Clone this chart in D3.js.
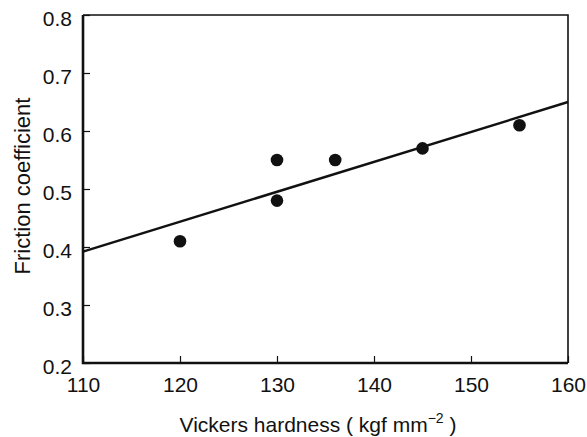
<!DOCTYPE html>
<meta charset="utf-8">
<head>
  <title>Friction vs hardness</title>
</head>
<style>
  body { margin: 0; background: #fff; }
  text { font-family: "Liberation Sans", Arial, sans-serif; fill: #111; }
</style>
<body>
  <div id="chart"></div>
  <script src="https://d3js.org/d3.v7.min.js"></script>
  <script>
  // data
  var hardness = [120, 130, 130, 136, 145, 155];
  var friction = [0.41, 0.55, 0.48, 0.55, 0.57, 0.61];
  // fitted line end points
  var fitX = [110, 160];
  var fitY = [0.392, 0.650];
  var xTicks = [110, 120, 130, 140, 150, 160];
  var yTicks = [0.2, 0.3, 0.4, 0.5, 0.6, 0.7, 0.8];

  var margin = {top: 15, right: 19, bottom: 74, left: 83},
      width = 587 - margin.left - margin.right,
      height = 437 - margin.top - margin.bottom;

  var svg = d3.select("#chart").append("svg")
      .attr("width", 587).attr("height", 437)
    .append("g")
      .attr("transform", "translate(" + margin.left + "," + margin.top + ")");

  var x = d3.scaleLinear().domain([110, 160]).range([0, width]);
  var y = d3.scaleLinear().domain([0.2, 0.8]).range([height, 0]);

  // frame: top/right thinner than the axes
  svg.append("path")
    .attr("d", "M0,0H" + width + "V" + height)
    .attr("fill", "none").attr("stroke", "#111").attr("stroke-width", 1.6);
  svg.append("path")
    .attr("d", "M0,0V" + height + "H" + width)
    .attr("fill", "none").attr("stroke", "#111").attr("stroke-width", 2.6);

  // x axis, ticks pointing in
  var xAxis = svg.append("g")
    .attr("transform", "translate(0," + height + ")")
    .call(d3.axisBottom(x).tickValues(xTicks).tickSize(-7).tickPadding(14).tickSizeOuter(0));
  xAxis.select(".domain").remove();
  xAxis.selectAll("line").attr("stroke", "#111").attr("stroke-width", 1.2);
  xAxis.selectAll("text").style("font-size", "21px");

  // y axis
  var yAxis = svg.append("g")
    .call(d3.axisLeft(y).tickValues(yTicks).tickSize(-7).tickPadding(11)
      .tickFormat(d3.format(".1f")).tickSizeOuter(0));
  yAxis.select(".domain").remove();
  yAxis.selectAll("line").attr("stroke", "#111").attr("stroke-width", 1.2);
  yAxis.selectAll("text").style("font-size", "21px").attr("dy", "0.5em");

  // fit line
  svg.append("line")
    .attr("x1", x(fitX[0])).attr("y1", y(fitY[0]))
    .attr("x2", x(fitX[1])).attr("y2", y(fitY[1]))
    .attr("stroke", "#111").attr("stroke-width", 2.4);

  // points
  svg.selectAll("circle")
    .data(hardness)
    .enter().append("circle")
      .attr("cx", function(d) { return x(d); })
      .attr("cy", function(d, i) { return y(friction[i]); })
      .attr("r", 6.3)
      .attr("fill", "#111");

  // axis titles
  var xt = svg.append("text")
    .attr("x", 235).attr("y", height + 69)
    .attr("text-anchor", "middle")
    .style("font-size", "21px");
  xt.append("tspan").text("Vickers hardness ( kgf mm");
  xt.append("tspan").attr("dy", -9).style("font-size", "14px").text("\u22122");
  xt.append("tspan").attr("dy", 9).text(" )");

  svg.append("text")
    .attr("transform", "translate(" + (-53) + "," + 171 + ") rotate(-90)")
    .attr("text-anchor", "middle")
    .style("font-size", "22px")
    .text("Friction coefficient");
  </script>
</body>
</html>
